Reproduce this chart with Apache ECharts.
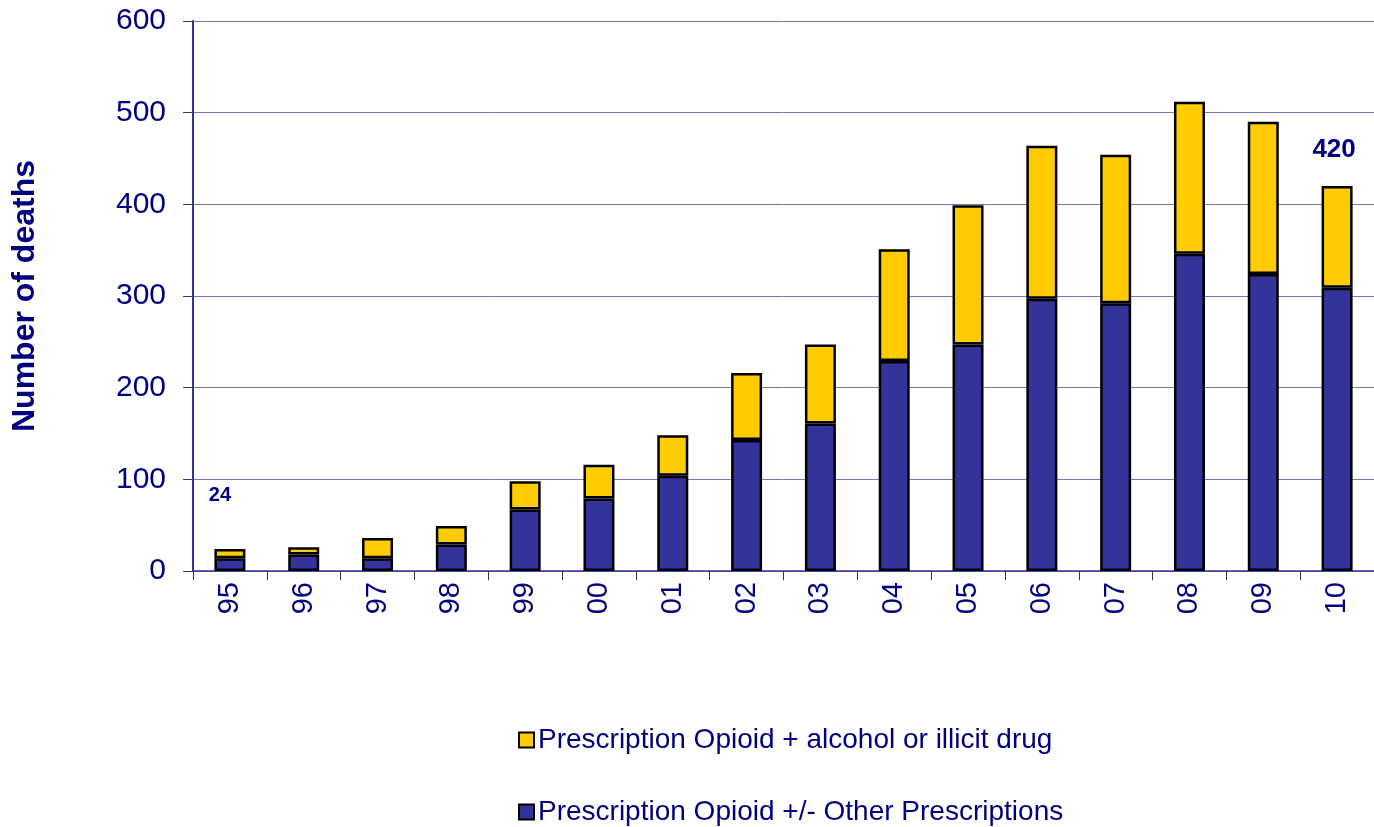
<!DOCTYPE html>
<html>
<head>
<meta charset="utf-8">
<script src="https://cdn.jsdelivr.net/npm/echarts@6/dist/echarts.min.js"></script>
<style>
  html, body { margin: 0; padding: 0; background: #ffffff; }
  #chart { width: 1374px; height: 827px; }
</style>
</head>
<body>
<div id="chart"></div>
<script>
// Years (two-digit) on the category axis
const years = ['95', '96', '97', '98', '99', '00', '01', '02', '03', '04', '05', '06', '07', '08', '09', '10'];

// Deaths involving prescription opioids alone or with other prescriptions
const opioidOtherRx = [14, 18, 14, 29, 67, 79, 104, 143, 161, 229, 247, 297, 292, 346, 324, 309];

// Deaths involving prescription opioids plus alcohol or an illicit drug
const opioidAlcoholIllicit = [10, 8, 22, 20, 31, 37, 44, 73, 86, 122, 152, 167, 162, 166, 166, 111];

const seriesNames = ['Prescription Opioid + alcohol or illicit drug', 'Prescription Opioid +/- Other Prescriptions'];
const yTicks = { min: 0, max: 600, interval: 100 };

const navy = '#000080';
const font = '"Liberation Sans", Arial, sans-serif';

// Totals are annotated for the first and last year only
const totals = opioidOtherRx.map((v, i) => v + opioidAlcoholIllicit[i]);
const lastIdx = years.length - 1;

const topData = opioidAlcoholIllicit.map((v, i) => {
  if (i === 0) {
    return { value: v, label: { show: true, formatter: String(totals[i]), position: 'top', distance: 44, offset: [-10, 0], fontSize: 20 } };
  }
  if (i === lastIdx) {
    return { value: v, label: { show: true, formatter: String(totals[i]), position: 'top', distance: 23, offset: [-3, 0], fontSize: 26 } };
  }
  return v;
});

// One legend block per series so the entries stack vertically with a wide gap
function legendBlock(name, top) {
  return {
    show: true,
    orient: 'vertical',
    left: 513,
    top: top,
    itemWidth: 15,
    itemHeight: 15,
    icon: 'rect',
    data: [name],
    textStyle: { color: navy, fontSize: 28, fontFamily: font, padding: [0, 0, 0, -1] }
  };
}

const chart = echarts.init(document.getElementById('chart'), null, { renderer: 'canvas' });

chart.setOption({
  animation: false,
  backgroundColor: '#ffffff',
  textStyle: { fontFamily: font },
  grid: { left: 193, right: 0, top: 21, bottom: 256, containLabel: false },
  legend: [
    legendBlock(seriesNames[0], 721),
    legendBlock(seriesNames[1], 793)
  ],
  xAxis: {
    type: 'category',
    data: years,
    boundaryGap: true,
    axisLine: { show: true, lineStyle: { color: '#333399', width: 1.5 } },
    axisTick: { show: true, alignWithLabel: false, length: 9, lineStyle: { color: '#333333', width: 1 } },
    axisLabel: { rotate: 90, color: navy, fontSize: 29, fontFamily: font, margin: 11 },
    splitLine: { show: false }
  },
  yAxis: {
    type: 'value',
    min: yTicks.min,
    max: yTicks.max,
    interval: yTicks.interval,
    name: 'Number of deaths',
    nameLocation: 'middle',
    nameGap: 152,
    nameRotate: 90,
    nameTextStyle: { color: navy, fontSize: 32, fontWeight: 'bold', fontFamily: font },
    axisLine: { show: true, lineStyle: { color: '#333399', width: 2 } },
    axisTick: { show: true, inside: false, length: 10, lineStyle: { color: '#333399', width: 1 } },
    axisLabel: { color: navy, fontSize: 30, fontFamily: font, margin: 27 },
    splitLine: { show: true, lineStyle: { color: '#7777bb', width: 1 } }
  },
  series: [
    {
      name: seriesNames[1],
      type: 'bar',
      stack: 'deaths',
      data: opioidOtherRx,
      barWidth: 31,
      itemStyle: { color: '#333399', borderColor: '#000000', borderWidth: 2.5 }
    },
    {
      name: seriesNames[0],
      type: 'bar',
      stack: 'deaths',
      data: topData,
      barWidth: 31,
      itemStyle: { color: '#FFCC00', borderColor: '#000000', borderWidth: 2.5 },
      label: { show: false, color: navy, fontSize: 20, fontWeight: 'bold', fontFamily: font }
    }
  ]
});
</script>
</body>
</html>
